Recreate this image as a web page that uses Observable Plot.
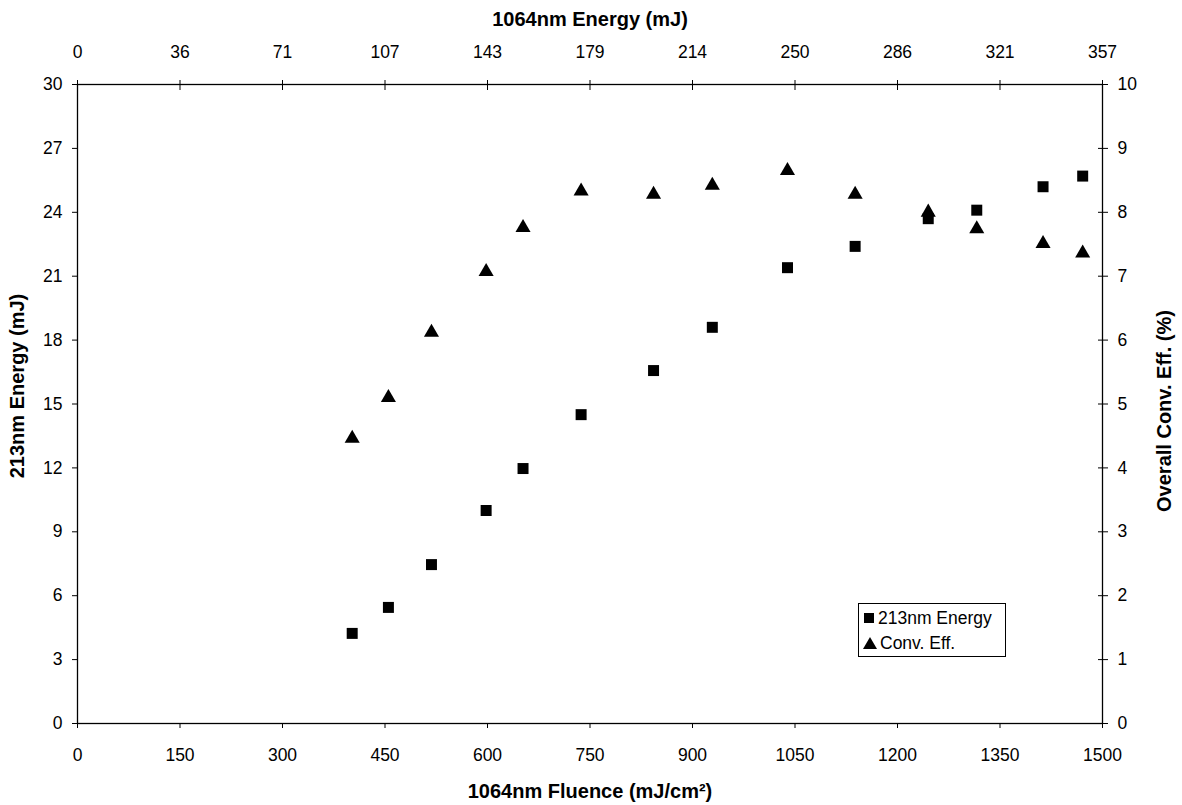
<!DOCTYPE html>
<html>
<head>
<meta charset="utf-8">
<script src="https://cdn.jsdelivr.net/npm/d3@7"></script>
<script src="https://cdn.jsdelivr.net/npm/@observablehq/plot@0.6"></script>
<style>
  html, body { margin: 0; padding: 0; background: #fff; }
  #wrap { position: relative; width: 1182px; height: 805px; font-family: "Liberation Sans", Arial, sans-serif; }
  #legend { position: absolute; left: 858px; top: 603px; width: 148px; height: 54px; border: 1px solid #000; background: #fff; font-size: 17.5px; color: #000; box-sizing: border-box; }
  #legend .row { position: absolute; left: 4px; display: flex; align-items: center; height: 22px; }
  #legend svg { margin-right: 3px; }
</style>
</head>
<body>
<div id="wrap"></div>
<script>
// Fluence (mJ/cm^2) shared by both series
const fluence = [402, 455, 518, 598, 652, 737, 843, 929, 1039, 1138, 1245, 1316, 1413, 1471];
// 213nm energy (mJ) — left axis
const energy213 = [4.23, 5.45, 7.46, 10.0, 11.97, 14.5, 16.57, 18.6, 21.4, 22.4, 23.7, 24.1, 25.2, 25.7];
// Overall conversion efficiency (%) — right axis
const convEff = [4.46, 5.10, 6.12, 7.07, 7.76, 8.33, 8.28, 8.42, 8.65, 8.28, 8.0, 7.74, 7.51, 7.36];

// Tick values / labels
const xTicks = [0, 150, 300, 450, 600, 750, 900, 1050, 1200, 1350, 1500];
const topTickLabels = ["0", "36", "71", "107", "143", "179", "214", "250", "286", "321", "357"];
const yTicks = [0, 3, 6, 9, 12, 15, 18, 21, 24, 27, 30];
const pctTicks = [0, 1, 2, 3, 4, 5, 6, 7, 8, 9, 10];
const pctToLeft = 30 / 10; // right axis 0..10 % maps onto left 0..30 mJ

const energyData = fluence.map((f, i) => ({f, v: energy213[i]}));
const effData = fluence.map((f, i) => ({f, v: convEff[i]}));

const font = '"Liberation Sans", Arial, sans-serif';
const rightTicks = pctTicks.map(p => p * pctToLeft);

const chart = Plot.plot({
  width: 1182,
  height: 805,
  marginLeft: 77,
  marginRight: 80,
  marginTop: 84,
  marginBottom: 82,
  style: {fontFamily: font, fontSize: "17px", color: "#000", background: "#fff"},
  x: {domain: [0, 1500]},
  y: {domain: [0, 30]},
  marks: [
    Plot.frame({stroke: "#000", strokeWidth: 1.3}),
    // bottom axis
    Plot.axisX({anchor: "bottom", ticks: xTicks, tickSize: 5, tickPadding: 20, tickFormat: d => String(d),
      label: "1064nm Fluence (mJ/cm²)", labelAnchor: "center", labelOffset: 74, fontSize: 17.5}),
    // top axis
    Plot.axisX({anchor: "top", ticks: xTicks, tickSize: 5, tickPadding: 22,
      tickFormat: d => topTickLabels[xTicks.indexOf(d)],
      label: "1064nm Energy (mJ)", labelAnchor: "center", labelOffset: 73, fontSize: 17.5}),
    Plot.axisX({anchor: "top", ticks: xTicks, tickSize: -5, text: null, label: null}),
    // left axis
    Plot.axisY({anchor: "left", ticks: yTicks, tickSize: 5, tickPadding: 10, tickFormat: d => String(d),
      label: "213nm Energy (mJ)", labelAnchor: "center", labelOffset: 68, fontSize: 17.5}),
    // right axis
    Plot.axisY({anchor: "right", ticks: rightTicks, tickSize: 5, tickPadding: 10,
      tickFormat: d => String(pctTicks[rightTicks.indexOf(d)]),
      label: "Overall Conv. Eff. (%)", labelAnchor: "center", labelOffset: 68, fontSize: 17.5}),
    Plot.axisY({anchor: "right", ticks: rightTicks, tickSize: -5, text: null, label: null}),
    Plot.dot(energyData, {x: "f", y: "v", symbol: "square", r: 6.2, fill: "#000", stroke: "none"}),
    Plot.dot(effData, {x: "f", y: d => d.v * pctToLeft, symbol: "triangle", r: 5.6, fill: "#000", stroke: "none"})
  ]
});

const wrap = document.getElementById("wrap");
wrap.appendChild(chart);

// Bold axis titles, no arrows
chart.querySelectorAll('[aria-label="x-axis label"] text, [aria-label="y-axis label"] text').forEach(t => {
  t.setAttribute("font-weight", "bold");
  t.setAttribute("font-size", "20");
  t.textContent = t.textContent.replace(/\s*[→↑←↓]\s*/g, "");
});
// nudge the y titles to the reference's vertical positions (keep Plot's own transform)
const yLabels = chart.querySelectorAll('[aria-label="y-axis label"]');
const nudge = (g, dy) => { const t = g.getAttribute("transform") || ""; g.setAttribute("transform", `translate(0,${dy}) ${t}`); };
if (yLabels[0]) nudge(yLabels[0], -18);
if (yLabels[1]) nudge(yLabels[1], 7);

// Legend
const legend = document.createElement("div");
legend.id = "legend";
legend.innerHTML = `
  <div class="row" style="top:3px"><svg width="12" height="12"><rect x="1" y="1" width="10" height="10" fill="#000"/></svg>213nm Energy</div>
  <div class="row" style="top:28px"><svg width="14" height="13"><path d="M7 0 L14 12 L0 12 Z" fill="#000"/></svg>Conv. Eff.</div>`;
wrap.appendChild(legend);
</script>
</body>
</html>
